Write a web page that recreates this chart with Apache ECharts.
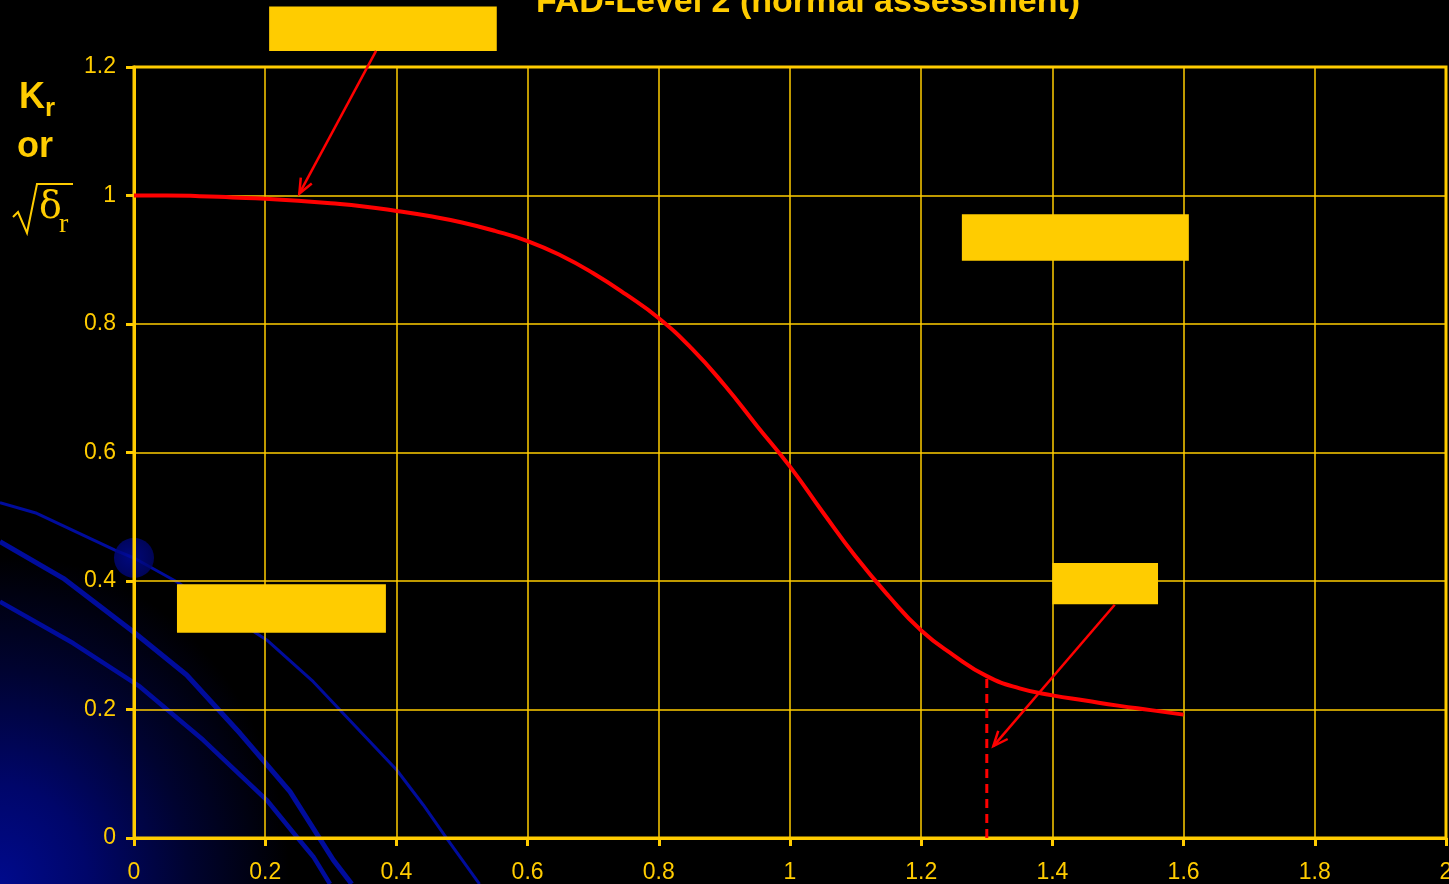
<!DOCTYPE html>
<html>
<head>
<meta charset="utf-8">
<script src="https://cdn.jsdelivr.net/npm/echarts@6/dist/echarts.min.js"></script>
<style>
  html, body { margin: 0; padding: 0; background: #000; }
  #chart {
    width: 1449px; height: 884px;
    background: radial-gradient(ellipse 290px 330px at 0% 100%, #000a8c 0%, #00066a 30%, #000330 65%, #000 100%);
  }
</style>
</head>
<body>
<div id="chart"></div>
<script>
// Failure assessment diagram, level 2 (normal assessment)
const GOLD = '#FFCC00';
const RED = '#FF0000';

// Assessment line: Lr (load ratio) against Kr
const lrValues = [0, 0.05, 0.1, 0.15, 0.2, 0.25, 0.3, 0.35, 0.4, 0.45, 0.5, 0.55, 0.6, 0.65, 0.7, 0.75, 0.8, 0.85, 0.9, 0.95, 1.0, 1.05, 1.1, 1.15, 1.2, 1.25, 1.3, 1.35, 1.4, 1.45, 1.5, 1.55, 1.6];
const krValues = [1.0, 1.0, 0.999, 0.997, 0.995, 0.992, 0.988, 0.983, 0.976, 0.968, 0.958, 0.945, 0.929, 0.907, 0.879, 0.846, 0.809, 0.762, 0.705, 0.641, 0.578, 0.507, 0.438, 0.377, 0.323, 0.284, 0.252, 0.233, 0.222, 0.214, 0.206, 0.199, 0.192];

// Plastic collapse cut-off
const cutoffLr = 1.3;
const cutoffKr = 0.252;

// Axis ranges and tick steps
const xRange = [0, 2], xStep = 0.2;
const yRange = [0, 1.2], yStep = 0.2;

// Background swoosh lines (Lr, Kr), they run past the plot frame
const arcOuter = [[-0.2043, 0.5219], [-0.1483, 0.5054], [-0.029, 0.4482], [0, 0.4358], [0.0651, 0.3989], [0.2023, 0.3082], [0.2733, 0.2433], [0.3598, 0.1499], [0.4005, 0.1058], [0.441, 0.0514], [0.4767, -0.0005], [0.5224, -0.0654], [0.5267, -0.0716]];
const arcMiddle = [[-0.2043, 0.4612], [-0.1078, 0.4042], [-0.0011, 0.3211], [0.0803, 0.2537], [0.1616, 0.163], [0.2378, 0.0721], [0.3038, -0.0342], [0.3319, -0.0716]];
const arcInner = [[-0.2043, 0.3678], [-0.0925, 0.303], [0.0091, 0.2355], [0.1056, 0.1525], [0.2023, 0.0591], [0.248, 0.002], [0.2733, -0.0291], [0.2988, -0.0716]];
const swooshDot = [0, 0.436];

// Callout boxes [x1, yTop, x2, yBottom] and arrows [from, to], in axis units
const calloutBoxes = [[0.206, 1.294, 0.553, 1.225], [1.262, 0.971, 1.608, 0.8985], [1.400, 0.428, 1.561, 0.364], [0.0655, 0.395, 0.384, 0.3196]];
const calloutArrows = [[[0.369, 1.225], [0.252, 1.003]], [[1.495, 0.363], [1.310, 0.143]]];

const W = 1449, H = 884;
const plot = { left: 134, right: 3, top: 67, bottom: 46 };

const chart = echarts.init(document.getElementById('chart'), null, { renderer: 'canvas' });

const axisFont = { color: GOLD, fontSize: 23, fontFamily: '"Liberation Sans", Arial, sans-serif' };

function valueAxis(range, step, margin) {
  return {
    type: 'value', min: range[0], max: range[1], interval: step, z: 1, gridIndex: 0,
    axisLine: { show: true, onZero: false, lineStyle: { color: GOLD, width: 3 } },
    axisTick: { show: true, length: 8, lineStyle: { color: GOLD, width: 3 } },
    splitLine: { show: true, lineStyle: { color: GOLD, width: 1.5 } },
    axisLabel: Object.assign({ margin: margin, showMinLabel: true, showMaxLabel: true }, axisFont)
  };
}

// A full-canvas grid sharing the same scale, so the swoosh can run beyond the frame
const plotW = W - plot.left - plot.right, plotH = H - plot.top - plot.bottom;
const unitX = plotW / (xRange[1] - xRange[0]), unitY = plotH / (yRange[1] - yRange[0]);
const hiddenAxis = (min, max) => ({ type: 'value', gridIndex: 1, min: min, max: max, show: false, splitLine: { show: false } });

const swoosh = (data, width) => ({
  type: 'line', data: data, symbol: 'none', silent: true, xAxisIndex: 1, yAxisIndex: 1, z: -1,
  lineStyle: { color: '#000c9c', width: width }
});

chart.setOption({
  animation: false,
  title: {
    text: 'FAD-Level 2 (normal assessment)',
    left: 803, top: -19, textAlign: 'center',
    textStyle: { color: GOLD, fontSize: 34, fontWeight: 'bold', fontFamily: '"Liberation Sans", Arial, sans-serif' }
  },
  grid: [
    Object.assign({ show: true, borderColor: GOLD, borderWidth: 3, backgroundColor: 'transparent', outerBoundsMode: 'none', containLabel: false }, plot),
    { left: 0, right: 0, top: 0, bottom: 0, show: false, outerBoundsMode: 'none', containLabel: false }
  ],
  xAxis: [
    valueAxis(xRange, xStep, 23),
    hiddenAxis(xRange[0] - plot.left / unitX, xRange[1] + plot.right / unitX)
  ],
  yAxis: [
    valueAxis(yRange, yStep, 18),
    hiddenAxis(yRange[0] - plot.bottom / unitY, yRange[1] + plot.top / unitY)
  ],
  series: [
    swoosh(arcOuter, 3),
    swoosh(arcMiddle, 5),
    swoosh(arcInner, 4.5),
    {
      type: 'scatter', data: [swooshDot], symbolSize: 40, silent: true, xAxisIndex: 1, yAxisIndex: 1, z: -1,
      itemStyle: { color: { type: 'radial', x: 0.4, y: 0.5, r: 0.6, colorStops: [{ offset: 0, color: '#000a9c' }, { offset: 1, color: '#00056a' }] } }
    },
    {
      type: 'line', name: 'FAD', data: lrValues.map((x, i) => [x, krValues[i]]),
      smooth: 0.5, symbol: 'none', z: 5,
      lineStyle: { color: RED, width: 4 }
    },
    {
      type: 'line', name: 'cut-off', data: [[cutoffLr, 0], [cutoffLr, cutoffKr]],
      symbol: 'none', z: 5,
      lineStyle: { color: RED, width: 3, type: [9, 6] }
    }
  ]
});

// Callouts placed through the plot grid's coordinate system
const toPx = p => chart.convertToPixel({ gridIndex: 0 }, p);

function arrowEls(from, to) {
  const s = toPx(from), t = toPx(to);
  const dx = t[0] - s[0], dy = t[1] - s[1], len = Math.hypot(dx, dy);
  const ux = dx / len, uy = dy / len;
  const head = 16, ang = 0.4;
  const back = a => [t[0] - head * (ux * Math.cos(a) - uy * Math.sin(a)), t[1] - head * (ux * Math.sin(a) + uy * Math.cos(a))];
  return [
    { type: 'line', z: 20, silent: true, shape: { x1: s[0], y1: s[1], x2: t[0], y2: t[1] }, style: { stroke: RED, lineWidth: 2.5 } },
    { type: 'polyline', z: 20, silent: true, shape: { points: [back(ang), t, back(-ang)] }, style: { stroke: RED, lineWidth: 2.5, fill: null } }
  ];
}

const graphics = [];
calloutBoxes.forEach(b => {
  const a = toPx([b[0], b[1]]), c = toPx([b[2], b[3]]);
  graphics.push({ type: 'rect', z: 15, silent: true, shape: { x: a[0], y: a[1], width: c[0] - a[0], height: c[1] - a[1] }, style: { fill: GOLD } });
});
calloutArrows.forEach(ar => graphics.push(...arrowEls(ar[0], ar[1])));

// Vertical axis name: Kr or sqrt(delta r)
const sansBold = '"Liberation Sans", Arial, sans-serif';
const serif = '"DejaVu Serif", "Liberation Serif", serif';
graphics.push(
  { type: 'text', z: 20, silent: true, style: { text: 'K', x: 19, y: 98, fill: GOLD, font: 'bold 36px ' + sansBold, verticalAlign: 'middle' } },
  { type: 'text', z: 20, silent: true, style: { text: 'r', x: 45, y: 109, fill: GOLD, font: 'bold 26px ' + sansBold, verticalAlign: 'middle' } },
  { type: 'text', z: 20, silent: true, style: { text: 'or', x: 17, y: 147, fill: GOLD, font: 'bold 36px ' + sansBold, verticalAlign: 'middle' } },
  { type: 'polyline', z: 20, silent: true, shape: { points: [[13, 217], [18, 212], [27, 233], [37, 184], [73, 184]] }, style: { stroke: GOLD, lineWidth: 2, fill: null } },
  { type: 'text', z: 20, silent: true, style: { text: 'δ', x: 39, y: 208, fill: GOLD, font: '38px ' + serif, verticalAlign: 'middle' } },
  { type: 'text', z: 20, silent: true, style: { text: 'r', x: 59, y: 225, fill: GOLD, font: '28px "Liberation Serif", serif', verticalAlign: 'middle' } }
);

chart.setOption({ graphic: graphics });
</script>
</body>
</html>
